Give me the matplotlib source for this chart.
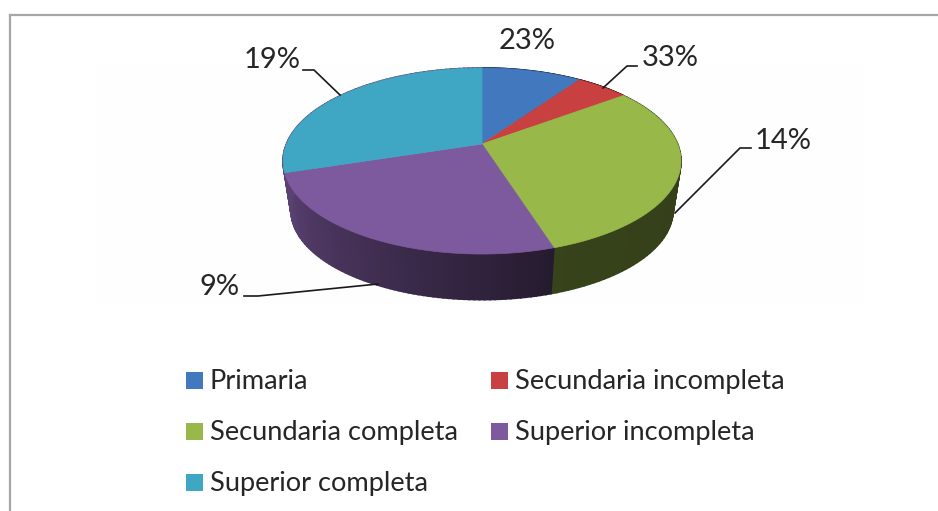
import numpy as np
import matplotlib
matplotlib.use("Agg")
import matplotlib.pyplot as plt
from matplotlib.patches import Polygon, Rectangle

categories = ["Primaria", "Secundaria incompleta", "Secundaria completa",
              "Superior incompleta", "Superior completa"]
slice_shares = [9.7, 5.1, 30.3, 25.0, 29.9]
printed_labels = ["23%", "33%", "14%", "9%", "19%"]

colors = ["#4279BE", "#C8403F", "#98B94A", "#7D5A9E", "#3FA6C4"]
wall_colors = ["#4279BE", "#C8403F", "#98B94A", "#7D5A9E", "#7D5A9E"]
side_shade = [(.4, .4), (.4, .4), (.33, .36), (.30, .72), (.72, .72)]

plt.rcParams["font.family"] = ["Lato", "DejaVu Sans"]
fig = plt.figure(figsize=(9.38, 5.11), dpi=100)
ax = fig.add_axes([0, 0, 1, 1])
ax.set_xlim(0, 938)
ax.set_ylim(511, 0)
ax.axis("off")

# frame
ax.add_patch(Rectangle((95, 65), 768, 240, fc="#FEFEFE", ec="none", zorder=0))
ax.plot([10, 938], [15, 15], color="#A6A6AA", lw=1.6, zorder=1)
ax.plot([10, 10], [15, 511], color="#A6A6AA", lw=1.6, zorder=1)

# perspective projection of the pie disc
CX, CY, RX, RY, K = 482, 144, 195.6, 89.9, 0.183
def top_pt(t):
    u, v = np.sin(t), np.cos(t)
    w = 1 + K * v
    return CX + RX * u / w, CY - RY * v / w
def base_pt(t):
    x, y = top_pt(t)
    return CX + .96 * (x - CX), CY + .96 * (y - CY) + 50

fracs = np.cumsum([0] + slice_shares) / sum(slice_shares) * 2 * np.pi

# side walls
for i, col in enumerate(wall_colors):
    ts = np.linspace(fracs[i], fracs[i + 1], 70)
    rgb = np.array(matplotlib.colors.to_rgb(col))
    s0, s1 = side_shade[i]
    for a, b, f in zip(ts[:-1], ts[1:], np.linspace(0, 1, len(ts) - 1)):
        ta, tb = top_pt(a), top_pt(b)
        ba, bb = base_pt(a), base_pt(b)
        c = rgb * (s0 + (s1 - s0) * f)
        ax.add_patch(Polygon([ta, tb, bb, ba], closed=True, fc=c, ec=c, lw=1.2, zorder=2))

# top face
for i, col in enumerate(colors):
    ts = np.linspace(fracs[i], fracs[i + 1], 120)
    xs, ys = top_pt(ts)
    pts = np.column_stack([np.r_[CX, xs], np.r_[CY, ys]])
    ax.add_patch(Polygon(pts, closed=True, fc=col, ec=col, lw=.5, zorder=3))

# leader lines
leaders = [None,
           [(637, 66), (627, 66), (603, 88)],
           [(751, 148), (740, 148), (675, 213)],
           [(244, 296), (258, 296), (378, 284)],
           [(303, 70), (314, 70), (340, 95)]]
for seg in leaders:
    if seg:
        x, y = zip(*seg)
        ax.plot(x, y, color="#1A1A1A", lw=1.2, zorder=4)

label_pos = [(527, 41), (670, 58), (783, 141), (220, 287), (272, 60)]
for txt, (x, y) in zip(printed_labels, label_pos):
    ax.text(x, y, txt, ha="center", va="center", fontsize=21, color="#262626", zorder=5)

# legend
legend_pos = [(186, 389), (491, 389), (186, 440), (491, 440), (186, 491)]
for name, col, (x, y) in zip(categories, colors, legend_pos):
    ax.add_patch(Rectangle((x, y - 17), 17, 17, fc=col, ec="none", zorder=5))
    ax.text(x + 24, y, name, ha="left", va="baseline", fontsize=19.6, color="#262626", zorder=5)

fig.savefig("out.png", dpi=100)
